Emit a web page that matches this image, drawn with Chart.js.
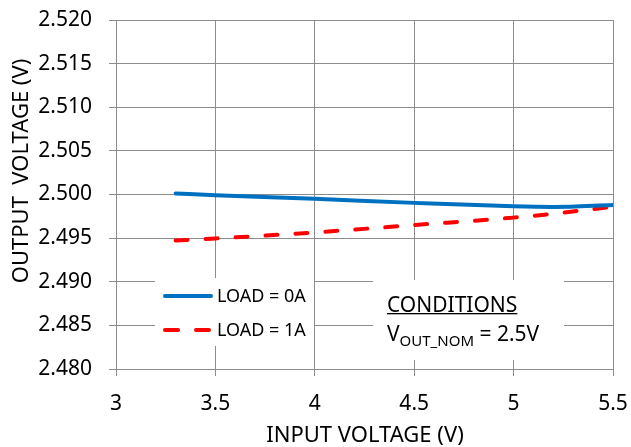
<script src="https://cdn.jsdelivr.net/npm/chart.js@4.4.1/dist/chart.umd.min.js"></script>
<body style="margin:0;background:#fff">
<canvas id="chart" width="631" height="447"></canvas>
<script>
// values
var vin   = [3.3, 3.5, 4.0, 4.5, 5.0, 5.2, 5.5];
var load0 = [2.50012, 2.49992, 2.4995, 2.49904, 2.49865, 2.49858, 2.49881];
var load1 = [2.49473, 2.49496, 2.49565, 2.4965, 2.49735, 2.4978, 2.4986];
var seriesNames = ["LOAD = 0A", "LOAD = 1A"];
var xTitle = "INPUT VOLTAGE (V)";
var yTitle = "OUTPUT  VOLTAGE (V)";

var gridColor = "#8c8c8c";
var font = "'Noto Sans', sans-serif";

function pts(ys) {
    return vin.map(function (x, i) { return { x: x, y: ys[i] }; });
}

// titles, legend and the conditions note are painted on top
var overlay = {
    id: "overlay",
    afterDraw: function (chart) {
        var ctx = chart.ctx;
        ctx.save();
        ctx.fillStyle = "#000";

        // x title
        ctx.font = "22px " + font;
        ctx.textAlign = "center";
        ctx.textBaseline = "alphabetic";
        ctx.fillText(xTitle, 365, 442);

        // y title
        ctx.save();
        ctx.translate(28, 171);
        ctx.rotate(-Math.PI / 2);
        ctx.fillText(yTitle, 0, 0);
        ctx.restore();

        // legend box
        ctx.fillStyle = "#fff";
        ctx.fillRect(155, 278, 159, 68);
        ctx.lineWidth = 4;
        ctx.lineCap = "round";
        ctx.strokeStyle = "#0070C0";
        ctx.beginPath(); ctx.moveTo(165, 296); ctx.lineTo(211, 296); ctx.stroke();
        ctx.strokeStyle = "#FF0000";
        ctx.beginPath(); ctx.moveTo(165, 330); ctx.lineTo(178, 330); ctx.stroke();
        ctx.beginPath(); ctx.moveTo(196, 330); ctx.lineTo(209, 330); ctx.stroke();
        ctx.fillStyle = "#000";
        ctx.font = "18px " + font;
        ctx.textAlign = "left";
        ctx.fillText(seriesNames[0], 217, 302);
        ctx.fillText(seriesNames[1], 217, 336);

        // conditions box
        ctx.fillStyle = "#fff";
        ctx.fillRect(373, 280, 191, 80);
        ctx.fillStyle = "#000";
        ctx.font = "21px " + font;
        ctx.fillText("CONDITIONS", 387, 312);
        var w = ctx.measureText("CONDITIONS").width;
        ctx.fillRect(387, 313, w, 1.3);
        ctx.fillText("V", 387, 341);
        var vx = 387 + ctx.measureText("V").width;
        ctx.font = "15px " + font;
        ctx.fillText("OUT_NOM", vx, 346);
        vx += ctx.measureText("OUT_NOM").width;
        ctx.font = "21px " + font;
        ctx.fillText(" = 2.5V", vx, 341);

        ctx.restore();
    }
};

new Chart(document.getElementById("chart").getContext("2d"), {
    type: "scatter",
    data: {
        datasets: [{
            label: seriesNames[0],
            data: pts(load0),
            showLine: true,
            borderColor: "#0070C0",
            borderWidth: 4,
            borderCapStyle: "round",
            pointRadius: 0,
            cubicInterpolationMode: "monotone"
        }, {
            label: seriesNames[1],
            data: pts(load1),
            showLine: true,
            borderColor: "#FF0000",
            borderWidth: 4,
            borderDash: [12, 18],
            borderCapStyle: "round",
            pointRadius: 0,
            cubicInterpolationMode: "monotone"
        }]
    },
    options: {
        responsive: false,
        animation: false,
        layout: { padding: { top: 20, right: 18, left: 0, bottom: 0 } },
        plugins: { legend: { display: false }, tooltip: { enabled: false } },
        scales: {
            x: {
                type: "linear",
                min: 3, max: 5.5,
                afterFit: function (s) {
                    s.height = 78;
                    s.paddingLeft = 0; s.paddingRight = 0;
                },
                ticks: {
                    stepSize: 0.5,
                    color: "#000",
                    padding: 15,
                    font: { family: font, size: 21 },
                    callback: function (v) { return String(v); }
                },
                grid: { color: gridColor, lineWidth: 1, tickLength: 7 },
                border: { color: gridColor, width: 1 }
            },
            y: {
                min: 2.48, max: 2.52,
                afterFit: function (s) {
                    s.width = 116;
                    s.paddingTop = 0; s.paddingBottom = 0;
                },
                ticks: {
                    stepSize: 0.005,
                    color: "#000",
                    padding: 17,
                    font: { family: font, size: 21 },
                    callback: function (v) { return v.toFixed(3); }
                },
                grid: { color: gridColor, lineWidth: 1, tickLength: 7 },
                border: { color: gridColor, width: 1 }
            }
        }
    },
    plugins: [overlay]
});
</script>
</body>
